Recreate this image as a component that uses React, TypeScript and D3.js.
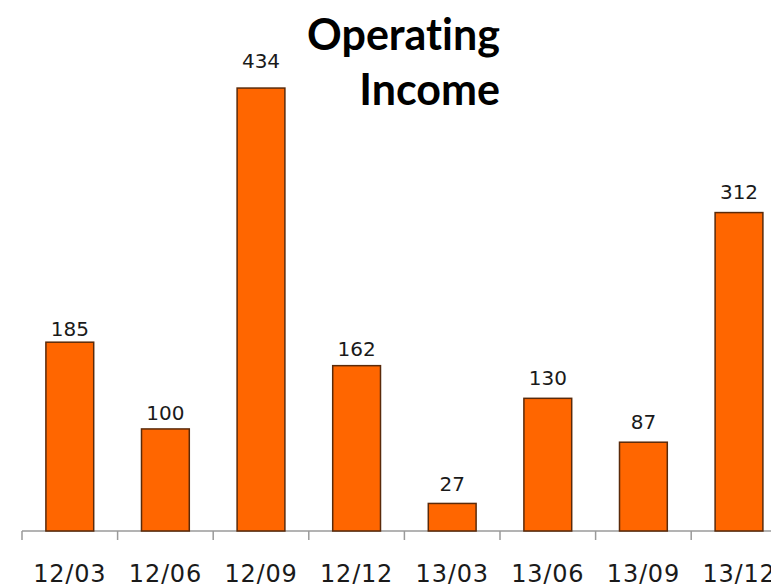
import React from "react";
import * as d3 from "d3";

const categories = ["12/03", "12/06", "12/09", "12/12", "13/03", "13/06", "13/09", "13/12"];
const values = [185, 100, 434, 162, 27, 130, 87, 312];
const titleLines = ["Operating", "Income"];
// vertical gap between value label baseline and bar top (as in the source image)
const labelGaps = [6, 9, 20, 10, 12, 13, 13, 14];

export default function App() {
  const W = 771, H = 584;
  const left = 22, step = 95.6, baseY = 531;
  const x = d3.scaleBand<string>().domain(categories)
    .range([left, left + step * categories.length])
    .paddingInner(0.5).paddingOuter(0.25);
  const y = d3.scaleLinear().domain([0, 500]).range([baseY, baseY - 510.3]);
  const ticks = d3.range(categories.length + 1).map(i => left + i * x.step());
  return (
    <div style={{ position: "fixed", left: 0, top: 0 }}>
      <svg width={W} height={H} style={{ display: "block", background: "#fff" }}>
        <line x1={left} x2={W + 20} y1={baseY} y2={baseY} stroke="#9a9a9a" strokeWidth={1.5} />
        {ticks.map((t, i) => (
          <line key={i} x1={t} x2={t} y1={baseY} y2={baseY + 9} stroke="#9a9a9a" strokeWidth={1.5} />
        ))}
        {categories.map((c, i) => (
          <g key={c}>
            <rect x={x(c)!} y={y(values[i])} width={x.bandwidth()} height={baseY - y(values[i])}
              fill="#FF6600" stroke="#5a2a0a" strokeWidth={1.5} />
            <text x={x(c)! + x.bandwidth() / 2} y={y(values[i]) - labelGaps[i]} textAnchor="middle"
              fontFamily="DejaVu Sans" fontSize={20} fill="#1a1a1a">{values[i]}</text>
            <text x={x(c)! + x.bandwidth() / 2} y={582} textAnchor="middle"
              fontFamily="DejaVu Sans" fontSize={24} letterSpacing={0.8} fill="#1a1a1a">{c}</text>
          </g>
        ))}
        <text x={500} y={50} textAnchor="end" fontFamily="Lato" fontWeight="bold" fontSize={43}
          style={{ fontVariantLigatures: "none" }} fill="#000">{titleLines[0]}</text>
        <text x={500} y={105} textAnchor="end" fontFamily="Lato" fontWeight="bold" fontSize={43}
          style={{ fontVariantLigatures: "none" }} fill="#000">{titleLines[1]}</text>
      </svg>
    </div>
  );
}
